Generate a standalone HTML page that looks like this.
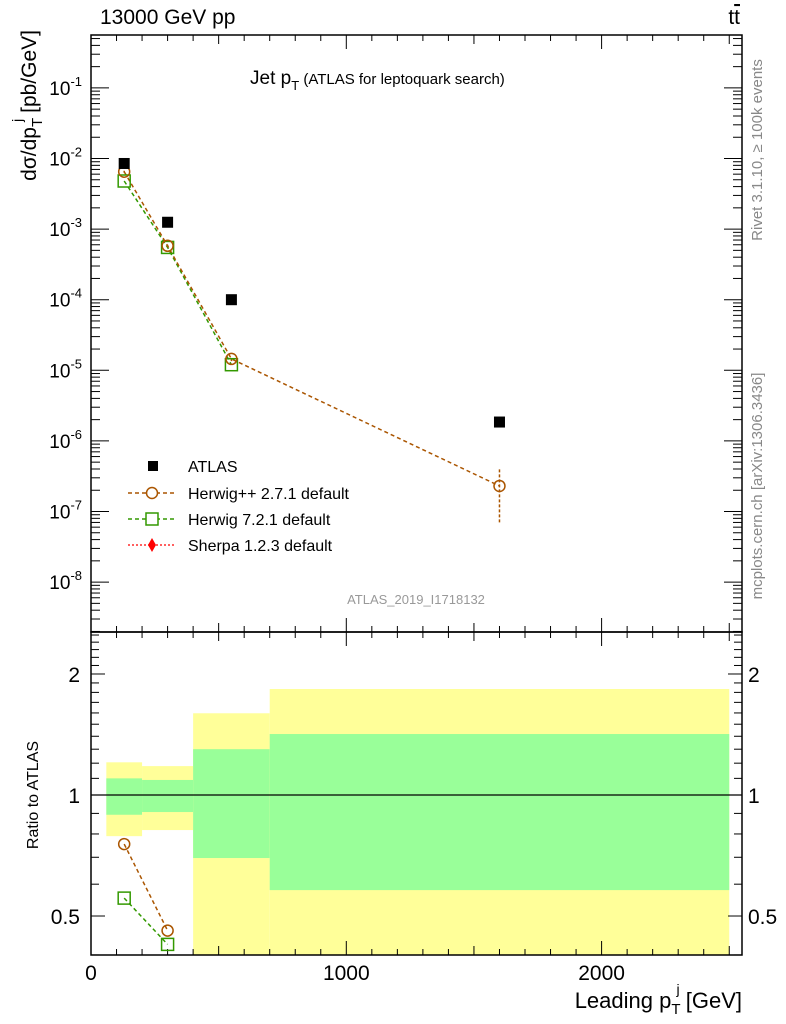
<!DOCTYPE html>
<html><head><meta charset="utf-8"><style>
body{margin:0;background:#fff;}
svg{display:block;font-family:"Liberation Sans",sans-serif;}
</style></head><body>
<svg id="c" width="786" height="1024" xmlns="http://www.w3.org/2000/svg"></svg>
<script>
const categories=[130,300,550,1600];
const binEdges=[60,200,400,700,2500];
const atlasVals=[8.5e-3,1.25e-3,1.0e-4,1.85e-6];
const hppVals=[6.5e-3,5.8e-4,1.45e-5,2.3e-7];
const hppErrLo=[6.3e-3,5.6e-4,1.35e-5,7e-8];
const hppErrHi=[6.7e-3,6.0e-4,1.55e-5,4e-7];
const h7Vals=[4.8e-3,5.5e-4,1.2e-5];
const hppRatio=[0.755,0.46];
const h7Ratio=[0.554,0.425];
const bandYelHi=[1.206,1.18,1.597,1.835];
const bandYelLo=[0.79,0.818,0.3,0.3];
const bandGrnHi=[1.10,1.09,1.30,1.418];
const bandGrnLo=[0.893,0.907,0.697,0.58];
const xTicks=[0,1000,2000];
const yDecades=[-8,-7,-6,-5,-4,-3,-2,-1];
const rTicks=[0.5,1,2];

const svg=document.getElementById('c');
const NS='http://www.w3.org/2000/svg';
function el(tag,attrs,parent){const e=document.createElementNS(NS,tag);for(const k in attrs)e.setAttribute(k,attrs[k]);(parent||svg).appendChild(e);return e;}
const L=91,R=742,T=35,MB=632,RB=955;
const X=v=>L+v*0.2553;
const Y=v=>158.5-(Math.log10(v)+2)*70.6;
const RY=v=>795-Math.log10(v)*402;
function clipR(y){return Math.max(MB,Math.min(RB,y));}

const bands=el('g',{});


for(let i=0;i<4;i++){
  const x1=X(binEdges[i]),x2=X(binEdges[i+1]);
  let y1=clipR(RY(bandYelHi[i])),y2=clipR(RY(bandYelLo[i]));
  const yb=el('rect',{x:x1,y:y1,width:x2-x1,height:y2-y1,fill:'#ffff99'},bands);
  
  
  y1=clipR(RY(bandGrnHi[i]));y2=clipR(RY(bandGrnLo[i]));
  const gb=el('rect',{x:x1,y:y1,width:x2-x1,height:y2-y1,fill:'#99ff99'},bands);
  
  
}
el('line',{x1:L,x2:R,y1:RY(1),y2:RY(1),stroke:'#000','stroke-width':1.2});

el('rect',{x:L,y:T,width:R-L,height:MB-T,fill:'none',stroke:'#000','stroke-width':1.5});
el('rect',{x:L,y:MB,width:R-L,height:RB-MB,fill:'none',stroke:'#000','stroke-width':1.5});

for(let v=0;v<=2600;v+=100){
  const x=X(v);if(x>R)break;
  const big=v%500===0, len=v%1000===0?14:(big?9:6);
  [[MB,1],[T,1],[RB,-1],[MB,-1]].forEach(([y,d])=>{el('line',{x1:x,x2:x,y1:y,y2:y+d*len,stroke:'#000','stroke-width':1});});
}
xTicks.forEach(v=>{const t=el('text',{x:X(v),y:980,'font-size':21,'text-anchor':'middle'});t.textContent=v;
});

for(let d=-9;d<=0;d++){for(let m=1;m<10;m++){const y=Y(m*Math.pow(10,d));if(y<T||y>MB)continue;
 const len=m===1?18:9;
 el('line',{x1:L,x2:L+len,y1:y,y2:y,stroke:'#000','stroke-width':1});
 el('line',{x1:R,x2:R-len,y1:y,y2:y,stroke:'#000','stroke-width':1});}}
yDecades.forEach(d=>{const t=el('text',{x:82,y:Y(Math.pow(10,d))+7,'font-size':19,'text-anchor':'end'});
 t.innerHTML='10<tspan dy="-9" font-size="13">'+d+'</tspan>';
 });

[0.4,0.5,0.6,0.7,0.8,0.9,1,1.1,1.2,1.3,1.4,1.5,1.6,1.7,1.8,1.9,2,2.1,2.2,2.3,2.4,2.5].forEach(v=>{
 const y=RY(v);if(y<MB||y>RB)return;const big=[0.5,1,2].includes(v);const len=big?14:8;
 el('line',{x1:L,x2:L+len,y1:y,y2:y,stroke:'#000','stroke-width':1});
 el('line',{x1:R,x2:R-len,y1:y,y2:y,stroke:'#000','stroke-width':1});});
rTicks.forEach(v=>{[[80,'end'],[748,'start']].forEach(([x,a])=>{const t=el('text',{x:x,y:RY(v)+8,'font-size':21,'text-anchor':a});t.textContent=v;
 });});

function poly(xs,ys,col,dash,name){const p=el('polyline',{points:xs.map((x,i)=>x+','+ys[i]).join(' '),fill:'none',stroke:col,'stroke-width':1.5,'stroke-dasharray':dash});
 }
poly(categories.slice(0,h7Vals.length).map(X),h7Vals.map(Y),'#339900','4,3','herwig7-line');
poly(categories.map(X),hppVals.map(Y),'#aa5500','4,3','herwigpp-line');
hppVals.forEach((v,i)=>{el('line',{x1:X(categories[i]),x2:X(categories[i]),y1:Y(hppErrLo[i]),y2:Y(hppErrHi[i]),stroke:'#aa5500','stroke-width':1.5,'stroke-dasharray':'3,2'});});
h7Vals.forEach((v,i)=>{const s=el('rect',{x:X(categories[i])-6,y:Y(v)-6,width:12,height:12,fill:'none',stroke:'#339900','stroke-width':1.5});
 });
hppVals.forEach((v,i)=>{const c=el('circle',{cx:X(categories[i]),cy:Y(v),r:5.5,fill:'none',stroke:'#aa5500','stroke-width':1.5});
 });
atlasVals.forEach((v,i)=>{const s=el('rect',{x:X(categories[i])-5.5,y:Y(v)-5.5,width:11,height:11,fill:'#000'});
 });

poly(categories.slice(0,2).map(X),h7Ratio.map(RY),'#339900','4,3','herwig7-ratio-line');
poly(categories.slice(0,2).map(X),hppRatio.map(RY),'#aa5500','4,3','herwigpp-ratio-line');
h7Ratio.forEach((v,i)=>{const s=el('rect',{x:X(categories[i])-6,y:RY(v)-6,width:12,height:12,fill:'none',stroke:'#339900','stroke-width':1.5});
 });
hppRatio.forEach((v,i)=>{const c=el('circle',{cx:X(categories[i]),cy:RY(v),r:5.5,fill:'none',stroke:'#aa5500','stroke-width':1.5});
 });

const lg=el('g',{});
el('rect',{x:148,y:461,width:10,height:10,fill:'#000'},lg);
el('line',{x1:128,x2:176,y1:493,y2:493,stroke:'#aa5500','stroke-dasharray':'4,3','stroke-width':1.5},lg);
el('circle',{cx:152,cy:493,r:5.5,fill:'#fff',stroke:'#aa5500','stroke-width':1.5},lg);
el('line',{x1:128,x2:176,y1:519,y2:519,stroke:'#339900','stroke-dasharray':'4,3','stroke-width':1.5},lg);
el('rect',{x:146,y:513,width:12,height:12,fill:'#fff',stroke:'#339900','stroke-width':1.5},lg);
el('line',{x1:128,x2:176,y1:545,y2:545,stroke:'#ff0000','stroke-dasharray':'2,2','stroke-width':1.2},lg);
el('path',{d:'M152,538 L156,545 L152,552 L148,545Z',fill:'#ff0000'},lg);
[['ATLAS',472],['Herwig++ 2.7.1 default',499],['Herwig 7.2.1 default',525],['Sherpa 1.2.3 default',551]].forEach(([s,y])=>{const t=el('text',{x:188,y:y,'font-size':16},lg);t.textContent=s;});

function txt(s,attrs,name){const t=el('text',attrs);t.innerHTML=s;return t;}
txt('13000 GeV pp',{x:100,y:24,'font-size':21},'title-left');
txt('t<tspan text-decoration="overline">t</tspan>',{x:740,y:24,'font-size':21,'text-anchor':'end'},'title-right');
txt('Jet p<tspan dy="6" font-size="13">T</tspan><tspan dy="-6" font-size="15"> (ATLAS for leptoquark search)</tspan>',{x:250,y:84,'font-size':19},'plot-title');
txt('ATLAS_2019_I1718132',{x:416,y:604,'font-size':13,fill:'#999','text-anchor':'middle'},'analysis-id');
txt('Leading p<tspan dy="6" font-size="15">T</tspan><tspan dy="-20" dx="-4" font-size="14">j</tspan><tspan dy="14"> [GeV]</tspan>',{x:742,y:1008,'font-size':22,'text-anchor':'end'},'x-axis-title');
txt('dσ/dp<tspan dy="6" font-size="15">T</tspan><tspan dy="-20" dx="-4" font-size="14">j</tspan><tspan dy="14"> [pb/GeV]</tspan>',{x:0,y:0,'font-size':21,'text-anchor':'end',transform:'translate(36,30) rotate(-90)'},'y-axis-title');
txt('Ratio to ATLAS',{x:0,y:0,'font-size':16,'text-anchor':'middle',transform:'translate(38,795) rotate(-90)'},'ratio-axis-title');
txt('Rivet 3.1.10, ≥ 100k events',{x:0,y:0,'font-size':15,fill:'#888','text-anchor':'middle',transform:'translate(762,150) rotate(-90)'},'rivet-label');
txt('mcplots.cern.ch [arXiv:1306.3436]',{x:0,y:0,'font-size':15,fill:'#888','text-anchor':'middle',transform:'translate(762,486) rotate(-90)'},'mcplots-label');
</script>
</body></html>
